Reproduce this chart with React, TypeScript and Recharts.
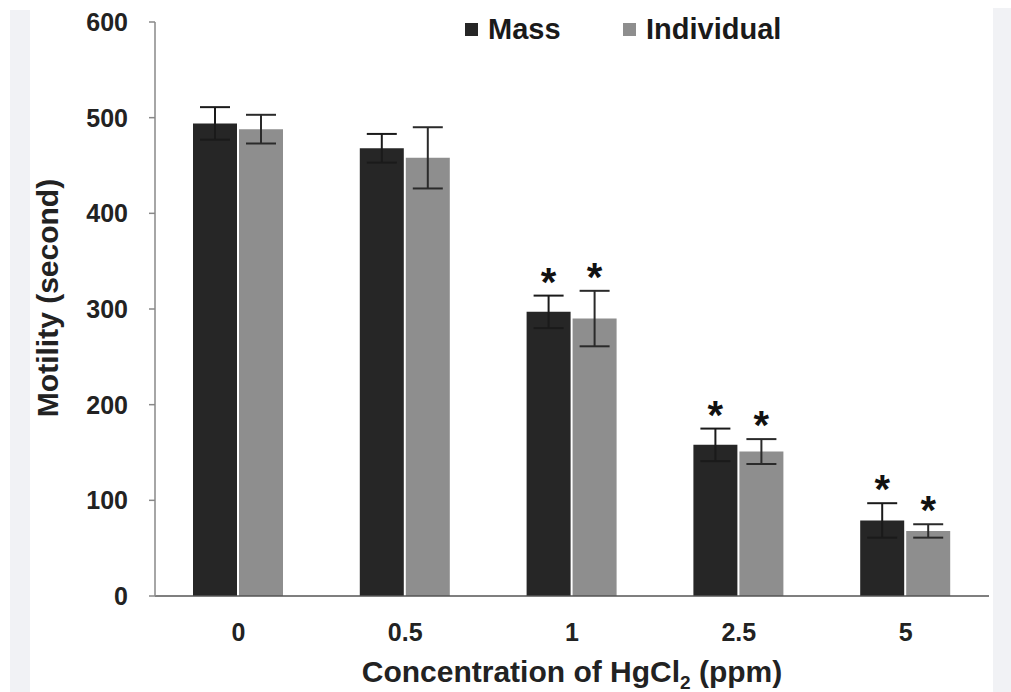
import {
  Bar,
  BarChart,
  ErrorBar,
  LabelList,
  Legend,
  XAxis,
  YAxis,
} from "recharts";

const categories = ["0", "0.5", "1", "2.5", "5"];
const massValues = [494, 468, 297, 158, 79];
const massErrors = [17, 15, 17, 17, 18];
const individualValues = [488, 458, 290, 151, 68];
const individualErrors = [15, 32, 29, 13, 7];
const significant = [false, false, true, true, true];
const yTicks = [0, 100, 200, 300, 400, 500, 600];

const FONT = "'Liberation Sans', Arial, Helvetica, sans-serif";
const MASS = "#262626";
const INDIVIDUAL = "#8e8e8e";

const rows = categories.map((c, i) => ({
  cat: c,
  mass: massValues[i],
  massErr: massErrors[i],
  individual: individualValues[i],
  individualErr: individualErrors[i],
  sig: significant[i],
}));

// asterisk drawn above the error bar: the bar's px/unit ratio converts the error into pixels
function starLabel(errs: number[]) {
  return (props: any) => {
    const { x, y, width, height, index, value } = props;
    if (!significant[index] || !value) return null;
    const errPx = (errs[index] * height) / value;
    const cy = y - errPx - 23;
    return (
      <text
        x={x + width / 2}
        y={cy + 23}
        textAnchor="middle"
        fontFamily={FONT}
        fontWeight="bold"
        fontSize={40}
        fill="#111"
      >
        *
      </text>
    );
  };
}

function LegendBox() {
  const items = [
    { name: "Mass", color: MASS, left: 465 },
    { name: "Individual", color: INDIVIDUAL, left: 623 },
  ];
  return (
    <div style={{ position: "relative", height: 36, fontFamily: FONT }}>
      {items.map((it) => (
        <div
          key={it.name}
          style={{
            position: "absolute",
            left: it.left,
            top: 0,
            display: "flex",
            alignItems: "center",
            height: 36,
          }}
        >
          <span
            style={{
              width: 13,
              height: 13,
              background: it.color,
              display: "inline-block",
              marginRight: 10,
            }}
          />
          <span style={{ fontSize: 29, fontWeight: "bold", color: "#1a1a1a" }}>
            {it.name}
          </span>
        </div>
      ))}
    </div>
  );
}

export default function App() {
  return (
    <div
      style={{
        position: "fixed",
        left: 0,
        top: 0,
        width: 1011,
        height: 692,
        background: "#fff",
        overflow: "hidden",
      }}
    >
      <div style={{ position: "absolute", left: 10, top: 10, width: 20, height: 682, background: "#f1f2f5" }} />
      <div style={{ position: "absolute", left: 993, top: 8, width: 18, height: 684, background: "#f1f2f5" }} />
      <BarChart
        width={1011}
        height={692}
        data={rows}
        margin={{ top: 22, right: 22, bottom: 0, left: 0 }}
        barSize={44}
        barGap={2}
        style={{ position: "absolute", left: 0, top: 0 }}
      >
        <XAxis
          dataKey="cat"
          axisLine={{ stroke: "#555", strokeWidth: 1.5 }}
          tickLine={false}
          tickSize={0}
          tickMargin={27}
          tick={{ fontSize: 25, fontWeight: "bold", fill: "#222", fontFamily: FONT }}
          height={96}
          label={(props: any) => {
            const vb = props.viewBox || {};
            return (
              <text
                x={vb.x + vb.width / 2}
                y={682}
                textAnchor="middle"
                fontFamily={FONT}
                fontWeight="bold"
                fontSize={30}
                fill="#222"
              >
                Concentration of HgCl
                <tspan fontSize={19} dy={7}>2</tspan>
                <tspan dy={-7}> (ppm)</tspan>
              </text>
            );
          }}
        />
        <YAxis
          width={155}
          domain={[0, 600]}
          ticks={yTicks}
          axisLine={{ stroke: "#888", strokeWidth: 1.5 }}
          tickLine={{ stroke: "#888", strokeWidth: 1.5 }}
          tickSize={6}
          tickMargin={21}
          tick={{ fontSize: 25, fontWeight: "bold", fill: "#222", fontFamily: FONT }}
          label={() => (
            <text
              x={47}
              y={298}
              transform="rotate(-90, 47, 298)"
              textAnchor="middle"
              dominantBaseline="central"
              fontFamily={FONT}
              fontWeight="bold"
              fontSize={30}
              fill="#222"
            >
              Motility (second)
            </text>
          )}
        />
        <Legend
          verticalAlign="middle"
          align="center"
          layout="horizontal"
          wrapperStyle={{ top: 11, left: 0, width: 1011 }}
          content={() => <LegendBox />}
        />
        <Bar dataKey="mass" name="Mass" fill={MASS} isAnimationActive={false}>
          <ErrorBar dataKey="massErr" width={15} stroke="#1a1a1a" strokeWidth={2} />
          <LabelList dataKey="mass" content={starLabel(massErrors)} />
        </Bar>
        <Bar dataKey="individual" name="Individual" fill={INDIVIDUAL} isAnimationActive={false}>
          <ErrorBar dataKey="individualErr" width={15} stroke="#2a2a2a" strokeWidth={2} />
          <LabelList dataKey="individual" content={starLabel(individualErrors)} />
        </Bar>
      </BarChart>
    </div>
  );
}
